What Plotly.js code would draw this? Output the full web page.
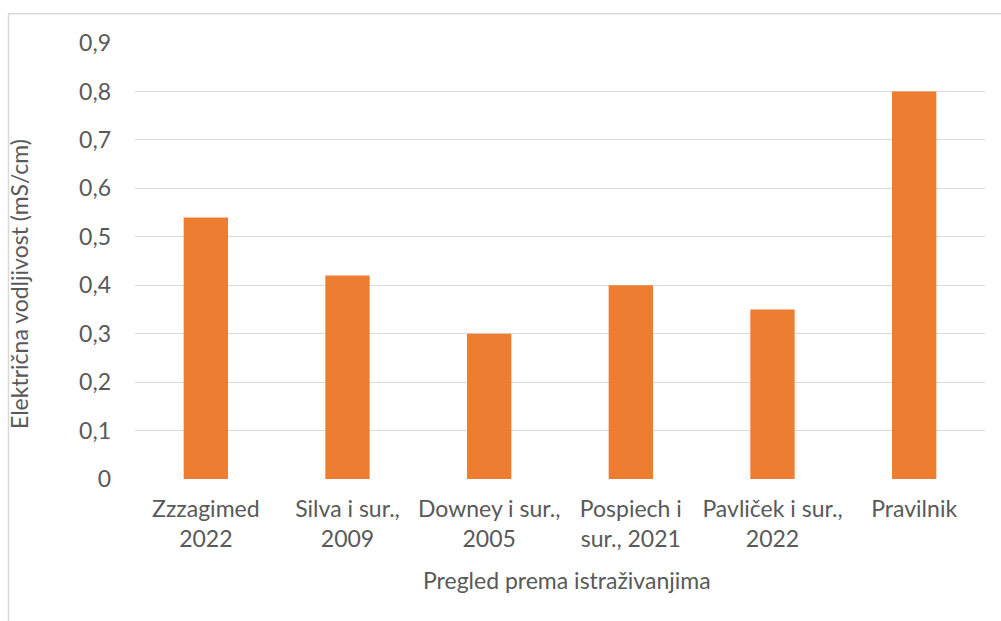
<!DOCTYPE html>
<html>
<head>
<meta charset="utf-8">
<script src="https://cdn.plot.ly/plotly-3.0.1.min.js"></script>
<style>
html,body{margin:0;padding:0;background:#fff;}
#chart{width:1001px;height:621px;}
</style>
</head>
<body>
<div id="chart"></div>
<script>
const categories = ["Zzzagimed<br>2022", "Silva i sur.,<br>2009", "Downey i sur.,<br>2005", "Pospiech i<br>sur., 2021", "Pavliček i sur.,<br>2022", "Pravilnik"];
const values = [0.54, 0.42, 0.30, 0.40, 0.35, 0.80];
const yTickVals = [0, 0.1, 0.2, 0.3, 0.4, 0.5, 0.6, 0.7, 0.8, 0.9];
const yTickText = ["0", "0,1", "0,2", "0,3", "0,4", "0,5", "0,6", "0,7", "0,8", "0,9"];
const xTitle = "Pregled prema istraživanjima";
const yTitle = "Električna vodljivost (mS/cm)";

const FONT = "Lato, 'Open Sans', sans-serif";
const TXT = "#595959";
const FS = 23;

const trace = {
  type: "bar",
  x: categories,
  y: values,
  marker: {color: "#ED7D31"},
  width: 0.313,
  hoverinfo: "x+y"
};

const L = 135, R = 16, T = 43, B = 142;
const W = 1001, H = 621;
const pw = W - L - R, ph = H - T - B;
const px = v => (v - L) / pw;
const py = v => (H - B - v) / ph;

const layout = {
  width: W, height: H,
  margin: {l: L, r: R, t: T, b: B, pad: 0},
  paper_bgcolor: "#fff",
  plot_bgcolor: "#fff",
  showlegend: false,
  font: {family: FONT, size: FS, color: TXT},
  xaxis: {
    type: "category",
    tickfont: {family: FONT, size: FS, color: TXT},
    showgrid: false,
    showline: false,
    zeroline: false,
    ticks: "",
    ticklabelstandoff: 14,
    fixedrange: true
  },
  yaxis: {
    range: [0, 0.9],
    tickvals: yTickVals,
    ticktext: yTickText,
    tickfont: {family: FONT, size: FS, color: TXT},
    showgrid: true,
    gridcolor: "#d9d9d9",
    gridwidth: 1.3,
    zeroline: false,
    showline: false,
    ticks: "",
    ticklabelstandoff: 23,
    fixedrange: true
  },
  annotations: [
    {text: xTitle, xref: "paper", yref: "paper", x: px(567), y: py(580),
     xanchor: "center", yanchor: "middle", showarrow: false,
     font: {family: FONT, size: FS, color: TXT}},
    {text: yTitle, xref: "paper", yref: "paper", x: px(19), y: py(284),
     xanchor: "center", yanchor: "middle", showarrow: false, textangle: -90,
     font: {family: FONT, size: FS, color: TXT}}
  ],
  shapes: [
    {type: "rect", xref: "paper", yref: "paper", layer: "below",
     x0: px(8.5), x1: px(1010), y0: py(640), y1: py(13.7),
     line: {color: "#d9d9d9", width: 1.5}, fillcolor: "rgba(0,0,0,0)"}
  ]
};

Plotly.newPlot("chart", [trace], layout, {displayModeBar: false, staticPlot: false});
</script>
</body>
</html>
